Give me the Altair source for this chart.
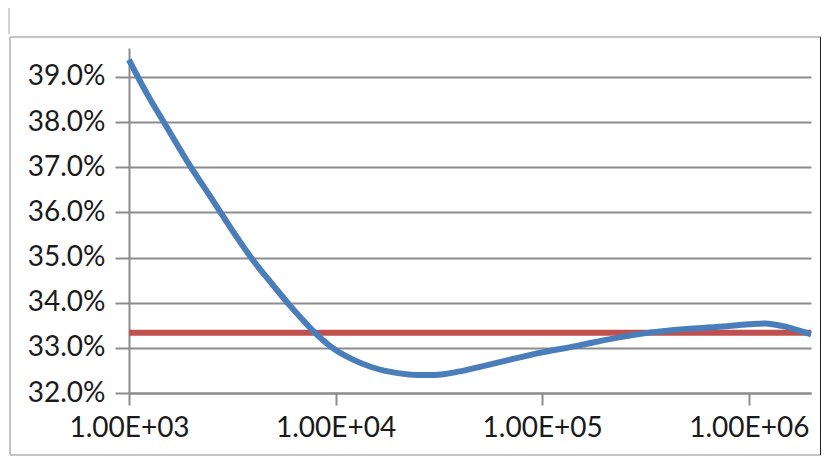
import altair as alt
import pandas as pd

# --- data ---
x_values = [1000, 1200, 1500, 2000, 2500, 3000, 4000, 5000, 6000, 7000, 8000,
            10000, 12000, 15000, 20000, 25000, 30000, 40000, 50000, 70000,
            100000, 150000, 200000, 300000, 500000, 700000, 1000000, 1200000,
            1500000, 2000000]
share_pct = [39.38, 38.69, 37.94, 36.99, 36.32, 35.76, 34.93, 34.38, 33.94, 33.60, 33.32,
             32.95, 32.75, 32.57, 32.44, 32.40, 32.40, 32.48, 32.58, 32.74,
             32.90, 33.05, 33.17, 33.31, 33.42, 33.46, 33.52, 33.54,
             33.47, 33.30]
ref_level = [1 / 3]
x_ticks = [1000, 10000, 100000, 1000000]
y_ticks = [0.32, 0.33, 0.34, 0.35, 0.36, 0.37, 0.38, 0.39]

df = pd.DataFrame({"n": x_values, "share": [v / 100 for v in share_pct]})
ref = pd.DataFrame({"level": ref_level})
one = pd.DataFrame({"a": [0]})

GRID = "#8c8c8c"
xscale = alt.Scale(type="log", domain=[1000, 2000000], nice=False)
yscale = alt.Scale(domain=[0.32, 0.3964], nice=False, zero=False)

x_axis = alt.Axis(values=x_ticks, grid=False, title=None, tickSize=12,
                  labelExpr="'1.00E+0' + round(log(datum.value) / LN10)",
                  labelPadding=9, labelFlush=False)
y_axis = alt.Axis(values=y_ticks, format=".1%", grid=True, title=None,
                  tickSize=14, labelPadding=10)

red = alt.Chart(ref).mark_rule(color="#c0504d", strokeWidth=6).encode(
    y=alt.Y("level:Q", scale=yscale, axis=y_axis)
)
blue = alt.Chart(df).mark_line(color="#4a7ebb", strokeWidth=6,
                               interpolate="monotone").encode(
    x=alt.X("n:Q", scale=xscale, axis=x_axis),
    y=alt.Y("share:Q", scale=yscale, axis=y_axis),
)

def frame(color, width, **enc):
    return alt.Chart(one).mark_rule(color=color, strokeWidth=width).encode(**enc)

frame_layers = [
    frame("#c4c4c4", 2, x=alt.value(-119), y=alt.value(-11), y2=alt.value(407)),
    frame("#c4c4c4", 2, x=alt.value(-119), x2=alt.value(692), y=alt.value(-11)),
    frame("#c4c4c4", 2, x=alt.value(-119), x2=alt.value(692), y=alt.value(407)),
    frame("#222222", 2, x=alt.value(692), y=alt.value(-11), y2=alt.value(407)),
    frame("#c4c4c4", 1.5, x=alt.value(-120), y=alt.value(-40), y2=alt.value(-14)),
]

chart = alt.layer(red, blue, *frame_layers).properties(
    width=682,
    height=345,
    autosize=alt.AutoSizeParams(type="none"),
    padding={"left": 121, "top": 40, "right": 10, "bottom": 64},
).configure_view(stroke=None).configure_axis(
    labelFont="Lato",
    labelFontSize=28,
    labelColor="#1a1a1a",
    gridColor=GRID,
    gridWidth=2,
    gridOpacity=1,
    domainColor=GRID,
    domainWidth=2,
    tickColor=GRID,
    tickWidth=2,
)

chart.save("out.html", embed_options={"renderer": "svg", "actions": False})
